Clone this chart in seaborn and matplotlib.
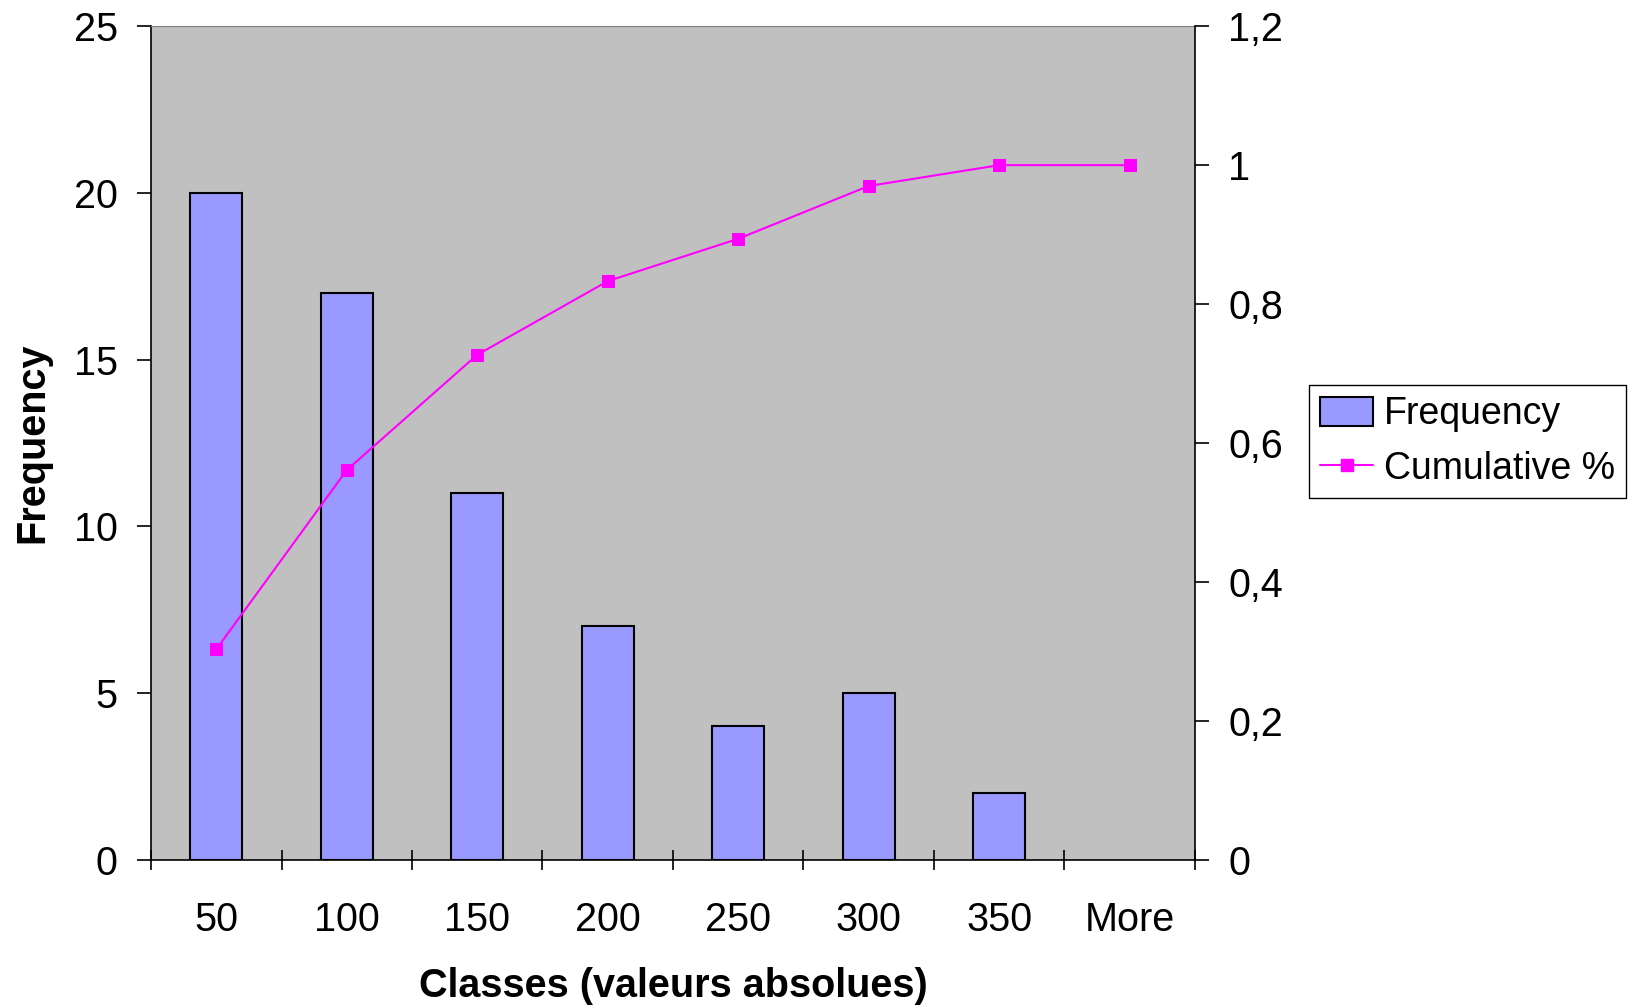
import matplotlib
matplotlib.use("Agg")
import matplotlib.pyplot as plt
import seaborn as sns
from matplotlib.ticker import FixedLocator, FuncFormatter
from matplotlib.lines import Line2D
from matplotlib.patches import Patch

categories = ["50", "100", "150", "200", "250", "300", "350", "More"]
frequency = [20, 17, 11, 7, 4, 5, 2, 0]
cumulative = [0.303, 0.561, 0.727, 0.833, 0.894, 0.970, 1.0, 1.0]
left_ticks = [0, 5, 10, 15, 20, 25]
right_ticks = [0, 0.2, 0.4, 0.6, 0.8, 1.0, 1.2]

sns.set_style("white")
plt.rcParams['font.family'] = ['Liberation Sans', 'DejaVu Sans']
plt.rcParams['text.color'] = 'black'
plt.rcParams['axes.labelcolor'] = 'black'
plt.rcParams['xtick.color'] = 'black'
plt.rcParams['ytick.color'] = 'black'

fig = plt.figure(figsize=(16.38, 10.08), dpi=100)
ax = fig.add_axes([0.0922, 0.147, 0.6373, 0.827])
ax.set_facecolor("#C0C0C0")

sns.barplot(x=categories, y=frequency, color="#9999FF", width=0.4,
            edgecolor="black", linewidth=1.5, saturation=1, ax=ax)
for p in ax.patches:
    if p.get_height() == 0:
        p.set_visible(False)
ax.set_xlim(-0.5, len(categories) - 0.5)
ax.set_ylim(0, 25)
ax.set_yticks(left_ticks)
ax.set_xticks(range(len(categories)))
ax.set_xticklabels(categories)
ax.xaxis.set_minor_locator(FixedLocator([i - 0.5 for i in range(len(categories) + 1)]))
ax.tick_params(axis='x', which='major', bottom=True, length=0, pad=30, labelsize=28.5)
ax.tick_params(axis='x', which='minor', bottom=True, length=14, direction='inout', width=1.2, color='black')
ax.tick_params(axis='y', which='major', length=10, width=1.2, direction='out', labelsize=28.5, pad=14, left=True)
for s in ['left', 'bottom']:
    ax.spines[s].set_color('black')
    ax.spines[s].set_linewidth(1.2)
ax.spines['top'].set_color('#808080')
ax.spines['right'].set_visible(False)
ax.set_xlabel("Classes (valeurs absolues)", fontsize=28.5, fontweight='bold', labelpad=20)
ax.set_ylabel("Frequency", fontsize=28.5, fontweight='bold', labelpad=16)

ax2 = ax.twinx()
sns.lineplot(x=list(range(len(categories))), y=cumulative, color="#FF00FF",
             marker='s', markersize=9, markeredgecolor="#FF00FF", linewidth=1.5, ax=ax2)
ax2.set_ylim(0, 1.2)
ax2.set_yticks(right_ticks)
ax2.yaxis.set_major_formatter(FuncFormatter(lambda v, p: ("%g" % round(v, 1)).replace('.', ',')))
ax2.tick_params(axis='y', length=10, width=1.2, direction='out', labelsize=28.5, pad=14, right=True)
ax2.spines['right'].set_color('black')
ax2.spines['right'].set_linewidth(1.2)
for s in ['left', 'top', 'bottom']:
    ax2.spines[s].set_visible(False)
ax2.set_xlim(-0.5, len(categories) - 0.5)

handles = [Patch(facecolor="#9999FF", edgecolor="black", linewidth=1.5, label="Frequency"),
           Line2D([0], [0], color="#FF00FF", marker='s', markersize=9, linewidth=1.5, label="Cumulative %")]
leg = fig.legend(handles=handles, loc='upper left', bbox_to_anchor=(1309 / 1638, 1 - 385 / 1008),
                 fontsize=27, frameon=True, fancybox=False, framealpha=1, edgecolor='black',
                 handlelength=1.4, handleheight=0.8, handletextpad=0.3, borderpad=0.3,
                 labelspacing=0.5, borderaxespad=0)
leg.get_frame().set_linewidth(1.0)

fig.savefig("out.png", dpi=100, facecolor='white')
